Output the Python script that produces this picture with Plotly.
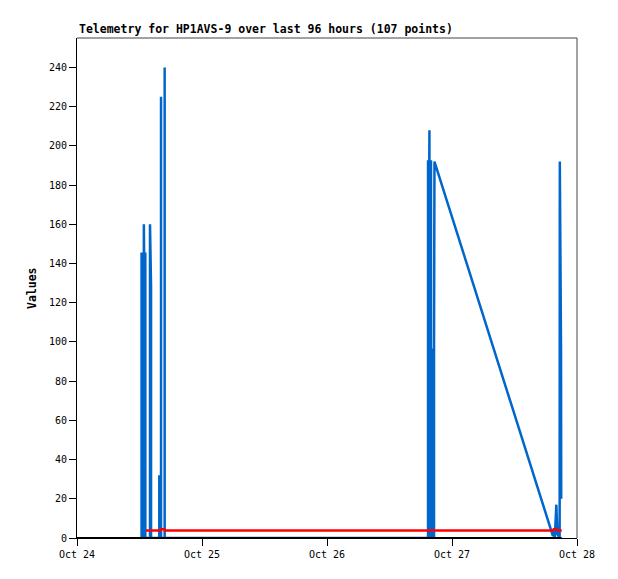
import plotly.graph_objects as go

# ---- data ----
blue_times = [
    "2024-10-24 12:24", "2024-10-24 12:24", "2024-10-24 12:38", "2024-10-24 12:38",
    "2024-10-24 12:50", "2024-10-24 12:50", "2024-10-24 12:53", "2024-10-24 13:07", "2024-10-24 13:07",
    "2024-10-24 14:01", "2024-10-24 14:01", "2024-10-24 14:13", "2024-10-24 14:13",
    "2024-10-24 15:48", "2024-10-24 15:48", "2024-10-24 15:48",
    "2024-10-24 16:08", "2024-10-24 16:08", "2024-10-24 16:08",
    "2024-10-24 16:50", "2024-10-24 16:50", "2024-10-24 16:50",
    "2024-10-26 19:24", "2024-10-26 19:24", "2024-10-26 19:38", "2024-10-26 19:40",
    "2024-10-26 19:41", "2024-10-26 19:50", "2024-10-26 19:50", "2024-10-26 19:58",
    "2024-10-26 19:58",
    "2024-10-26 20:10", "2024-10-26 20:10", "2024-10-26 20:28", "2024-10-26 20:28",
    "2024-10-26 20:33", "2024-10-26 20:33", "2024-10-26 20:38",
    "2024-10-27 19:23", "2024-10-27 19:35", "2024-10-27 19:44", "2024-10-27 20:02",
    "2024-10-27 20:14", "2024-10-27 20:40", "2024-10-27 20:42", "2024-10-27 20:56",
    "2024-10-27 20:58",
]
blue_values = [
    0, 145, 145, 0,
    0, 160, 145, 145, 0,
    0, 160, 128, 0,
    0, 32, 0,
    0, 225, 0,
    0, 240, 0,
    0, 192, 192, 208,
    0, 0, 192, 192,
    0,
    0, 96, 96, 0,
    0, 96, 192,
    1, 5, 0, 17,
    2, 0, 192, 96,
    20,
]

red_times = [
    "2024-10-24 13:15", "2024-10-24 16:00", "2024-10-24 16:08", "2024-10-24 16:45",
    "2024-10-24 16:50", "2024-10-26 19:26", "2024-10-27 19:23", "2024-10-27 19:35",
    "2024-10-27 20:02", "2024-10-27 20:14", "2024-10-27 21:04",
]
red_values = [3.8, 3.8, 4.5, 4.5, 3.8, 3.8, 3.8, 4.5, 4.5, 3.8, 3.8]

black_times = ["2024-10-24 00:00", "2024-10-27 21:04"]
black_values = [0, 0]

x_range = ["2024-10-24", "2024-10-28"]
y_ticks = list(range(0, 241, 20))
title_text = "Telemetry for HP1AVS-9 over last 96 hours (107 points)"
y_title = "Values"

MONO = "DejaVu Sans Mono"

fig = go.Figure()
fig.add_trace(go.Scatter(x=blue_times, y=blue_values, mode="lines",
                         line=dict(color="#0066cc", width=2.5), showlegend=False))
fig.add_trace(go.Scatter(x=red_times, y=red_values, mode="lines",
                         line=dict(color="#ff0000", width=2.5), showlegend=False))
fig.add_trace(go.Scatter(x=black_times, y=black_values, mode="lines",
                         line=dict(color="#000000", width=2), showlegend=False))

fig.update_layout(
    width=610, height=571,
    margin=dict(l=69, r=41, t=30, b=41),
    paper_bgcolor="white", plot_bgcolor="white",
    font=dict(family=MONO, size=10, color="black"),
    showlegend=False,
)
fig.update_xaxes(
    type="date", range=x_range, dtick=86400000, tickformat="%b %d",
    showgrid=False, zeroline=False, showline=True, linecolor="black", linewidth=1,
    ticks="outside", ticklen=7, tickcolor="black", tickwidth=1,
    tickfont=dict(family=MONO, size=10, color="black"),
)
fig.update_yaxes(
    range=[0, 255], tickvals=y_ticks,
    showgrid=False, zeroline=False, showline=True, linecolor="black", linewidth=1,
    ticks="outside", ticklen=7, tickcolor="black", tickwidth=1,
    tickfont=dict(family=MONO, size=10, color="black"),
)
# top/right border
fig.add_shape(type="line", xref="paper", yref="paper", x0=0, x1=1, y0=1, y1=1,
              line=dict(color="#444444", width=1))
fig.add_shape(type="line", xref="paper", yref="paper", x0=1, x1=1, y0=0, y1=1,
              line=dict(color="#444444", width=1))

fig.add_annotation(text="<b>" + title_text + "</b>", xref="paper", yref="paper",
                   x=0, y=1, xanchor="left", yanchor="bottom", yshift=0, showarrow=False,
                   font=dict(family=MONO, size=11.5, color="black"))
fig.add_annotation(text="<b>" + y_title + "</b>", xref="paper", yref="paper",
                   x=0, y=0.5, xanchor="center", yanchor="middle", xshift=-45,
                   textangle=-90, showarrow=False,
                   font=dict(family=MONO, size=11.5, color="black"))

fig.write_html("out.html")
